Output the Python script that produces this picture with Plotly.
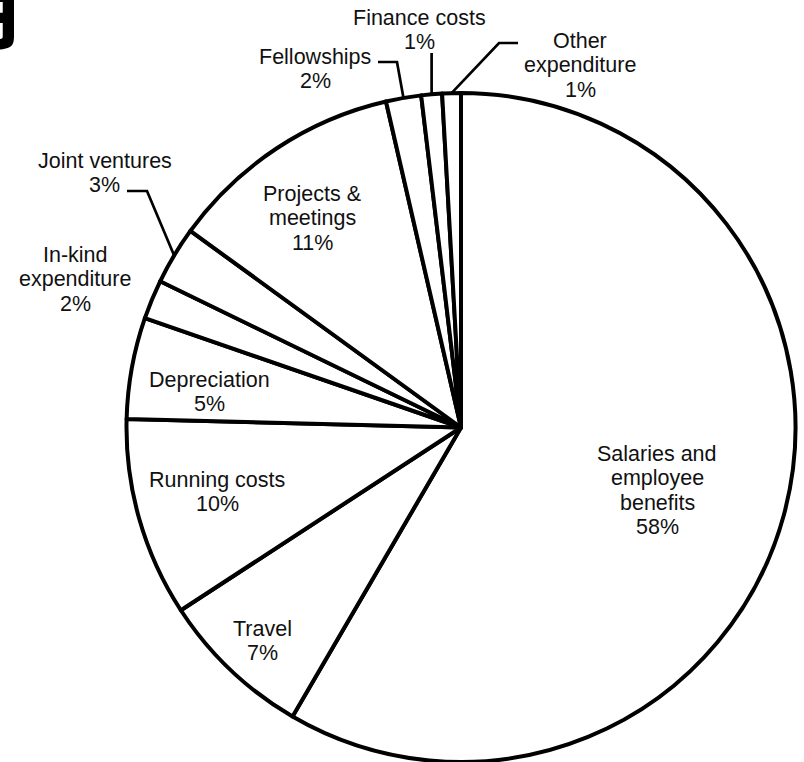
import math
import plotly.graph_objects as go

# ---- data ----
categories = ["Salaries and employee benefits", "Travel", "Running costs", "Depreciation",
              "In-kind expenditure", "Joint ventures", "Projects & meetings", "Fellowships",
              "Finance costs", "Other expenditure"]
values = [58.4, 7.4, 9.6, 4.9, 1.9, 2.8, 11.4, 1.7, 1.0, 0.9]
pct_labels = [f"{v:.0f}%" for v in values]

W, H = 804, 762
CX, CY, R = 461, 427.5, 334.5
FONT = "Liberation Sans, Arial, sans-serif"
FS = 21.5

fig = go.Figure(go.Pie(
    labels=categories, values=values, sort=False, direction="clockwise", rotation=0,
    textinfo="none", hoverinfo="label+percent",
    marker=dict(colors=["white"] * len(values), line=dict(color="black", width=4)),
    domain=dict(x=[(CX - 335) / W, (CX + 335) / W], y=[0, (2 * R) / H]),
    showlegend=False,
))


def P(x, y):
    return x / W, 1 - y / H


def edge(i):
    # point on the rim at the middle angle of slice i (computed from the data)
    tot = sum(values)
    start = sum(values[:i]) / tot
    mid = start + values[i] / tot / 2
    th = 2 * math.pi * mid
    return CX + R * math.sin(th), CY - R * math.cos(th)


annotations = []


def label(lines, x, ys):
    for t, y in zip(lines, ys):
        ax, ay = P(x, y)
        annotations.append(dict(text=t, x=ax, y=ay, xref="paper", yref="paper",
                                xanchor="center", yanchor="middle", showarrow=False,
                                font=dict(family=FONT, size=FS, color="#111111")))


def block(i, name_lines, x, y0, step=24.4):
    lines = name_lines + [pct_labels[i]]
    label(lines, x, [y0 + k * step for k in range(len(lines))])


block(0, ["Salaries and", "employee", "benefits"], 657, 454)
block(1, ["Travel"], 262, 629)
block(2, ["Running costs"], 217, 480)
block(3, ["Depreciation"], 210, 380)
block(4, ["In-kind", "expenditure"], 75, 255)
block(5, ["Joint ventures"], 105, 161)
block(6, ["Projects &", "meetings"], 312, 194)
block(7, ["Fellowships"], 315, 57)
block(8, ["Finance costs"], 420, 18)
block(9, ["Other", "expenditure"], 580, 41)

# leader lines: elbow points are layout, rim end is computed from the data
shapes = []


def leader(points, i):
    ex, ey = edge(i)
    pts = [P(*p) for p in points] + [P(ex, ey)]
    path = "M " + " L ".join(f"{a:.5f},{b:.5f}" for a, b in pts)
    shapes.append(dict(type="path", path=path, xref="paper", yref="paper",
                       line=dict(color="black", width=2.7)))


leader([(127, 191), (147, 191)], 5)
leader([(378, 62), (397, 62)], 7)
fx, _ = edge(8)
leader([(fx, 53)], 8)
leader([(518, 43), (499, 43)], 9)

# cropped glyph of surrounding page text at the top-left corner
ax, ay = P(30, 3)
annotations.append(dict(text="<b>月</b>", x=ax, y=ay, xref="paper", yref="paper",
                        xanchor="right", yanchor="middle", showarrow=False,
                        font=dict(family="Noto Sans CJK SC", size=88, color="black")))

fig.update_layout(width=W, height=H, margin=dict(l=0, r=0, t=0, b=0),
                  paper_bgcolor="white", plot_bgcolor="white",
                  annotations=annotations, shapes=shapes)
fig.write_html("out.html", config={"displayModeBar": False},
               post_script="document.body.style.margin='0';document.body.style.padding='0';")
